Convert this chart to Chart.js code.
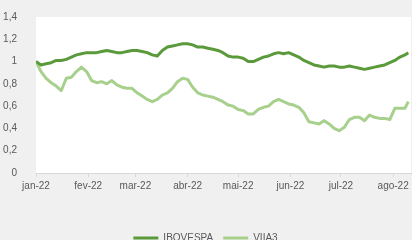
<!DOCTYPE html>
<html>
<head>
<meta charset="utf-8">
<script src="https://cdn.jsdelivr.net/npm/chart.js@4/dist/chart.umd.min.js"></script>
<style>
  html, body { margin: 0; padding: 0; background: #f0f0f0; overflow: hidden; }
  canvas { display: block; }
</style>
</head>
<body>
<canvas id="canvas" width="412" height="260"></canvas>
<script>
// days since 1 jan 2022
var days = [0,3,6,9,12,15,18,21,24,27,30,33,36,39,42,45,48,51,54,57,60,63,66,69,72,75,78,81,84,87,90,93,96,99,102,105,108,111,114,117,120,123,126,129,132,135,138,141,144,147,150,153,156,159,162,165,168,171,174,177,180,183,186,189,192,195,198,201,204,207,210,213,216,219,221];

var ibovespa = [1.00,0.97,0.98,0.99,1.01,1.01,1.02,1.04,1.06,1.07,1.08,1.08,1.08,1.09,1.10,1.09,1.08,1.08,1.09,1.10,1.10,1.09,1.08,1.06,1.05,1.10,1.13,1.14,1.15,1.16,1.16,1.15,1.13,1.13,1.12,1.11,1.10,1.08,1.05,1.04,1.04,1.03,1.00,1.00,1.02,1.04,1.05,1.07,1.08,1.07,1.08,1.06,1.04,1.01,0.99,0.97,0.96,0.95,0.96,0.96,0.95,0.95,0.96,0.95,0.94,0.93,0.94,0.95,0.96,0.97,0.99,1.01,1.04,1.06,1.08];

var viia3 = [1.00,0.91,0.85,0.81,0.78,0.74,0.85,0.86,0.91,0.95,0.91,0.83,0.81,0.82,0.80,0.83,0.79,0.77,0.76,0.76,0.72,0.69,0.66,0.64,0.66,0.70,0.72,0.76,0.82,0.85,0.84,0.77,0.72,0.70,0.69,0.68,0.66,0.64,0.61,0.60,0.57,0.56,0.53,0.53,0.57,0.59,0.60,0.64,0.66,0.64,0.62,0.61,0.59,0.54,0.46,0.45,0.44,0.47,0.44,0.40,0.38,0.41,0.48,0.50,0.50,0.47,0.52,0.50,0.49,0.49,0.48,0.58,0.58,0.58,0.64];

var monthDays = [0,31,59,90,120,151,181,212];
var monthLabels = ["jan-22","fev-22","mar-22","abr-22","mai-22","jun-22","jul-22","ago-22"];
var yTicks = [0,0.2,0.4,0.6,0.8,1,1.2,1.4];

function points(values){
  return values.map(function(v, i){ return {x: days[i], y: v}; });
}

var plotBg = {
  id: 'plotBg',
  beforeDraw: function(chart){
    var a = chart.chartArea, ctx = chart.ctx;
    ctx.save();
    ctx.fillStyle = '#ffffff';
    ctx.fillRect(a.left, a.top, a.right - a.left, a.bottom - a.top);
    ctx.restore();
  }
};

var txt = '#595959';
var font = {family: '"Liberation Sans", Arial, sans-serif', size: 10};

new Chart(document.getElementById('canvas'), {
  type: 'line',
  data: {
    datasets: [{
      label: 'IBOVESPA',
      data: points(ibovespa),
      borderColor: '#5b9a3b',
      backgroundColor: '#5b9a3b',
      borderWidth: 3,
      pointRadius: 0,
      borderJoinStyle: 'round',
      tension: 0
    }, {
      label: 'VIIA3',
      data: points(viia3),
      borderColor: '#a8d08d',
      backgroundColor: '#a8d08d',
      borderWidth: 3,
      pointRadius: 0,
      borderJoinStyle: 'round',
      tension: 0
    }]
  },
  options: {
    responsive: false,
    animation: false,
    layout: { padding: { top: 17, right: 1, bottom: 7, left: 0 } },
    plugins: {
      tooltip: { enabled: false },
      legend: {
        position: 'bottom',
        labels: {
          color: txt,
          font: {family: '"Liberation Sans Narrow", "Liberation Sans", Arial, sans-serif', size: 10},
          usePointStyle: true,
          pointStyle: 'line',
          pointStyleWidth: 25,
          boxHeight: 10
        }
      }
    },
    scales: {
      x: {
        type: 'linear',
        min: 0,
        max: 222.6,
        afterBuildTicks: function(scale){
          scale.ticks = monthDays.map(function(d){ return {value: d}; });
        },
        afterFit: function(scale){ scale.height = 50; },
        ticks: {
          color: txt,
          font: font,
          padding: 3,
          maxRotation: 0,
          autoSkip: false,
          callback: function(v){
            var i = monthDays.indexOf(v);
            return i >= 0 ? monthLabels[i] : '';
          }
        },
        grid: { drawOnChartArea: false, drawTicks: true, tickLength: 4, color: '#d9d9d9' },
        border: { color: '#d9d9d9' }
      },
      y: {
        min: 0,
        max: 1.4,
        afterBuildTicks: function(scale){
          scale.ticks = yTicks.map(function(v){ return {value: v}; });
        },
        afterFit: function(scale){ scale.width = 36; },
        ticks: {
          color: txt,
          font: font,
          padding: 11,
          callback: function(v){ return String(Math.round(v * 10) / 10).replace('.', ','); }
        },
        grid: { display: false },
        border: { display: false }
      }
    }
  },
  plugins: [plotBg]
});
</script>
</body>
</html>
